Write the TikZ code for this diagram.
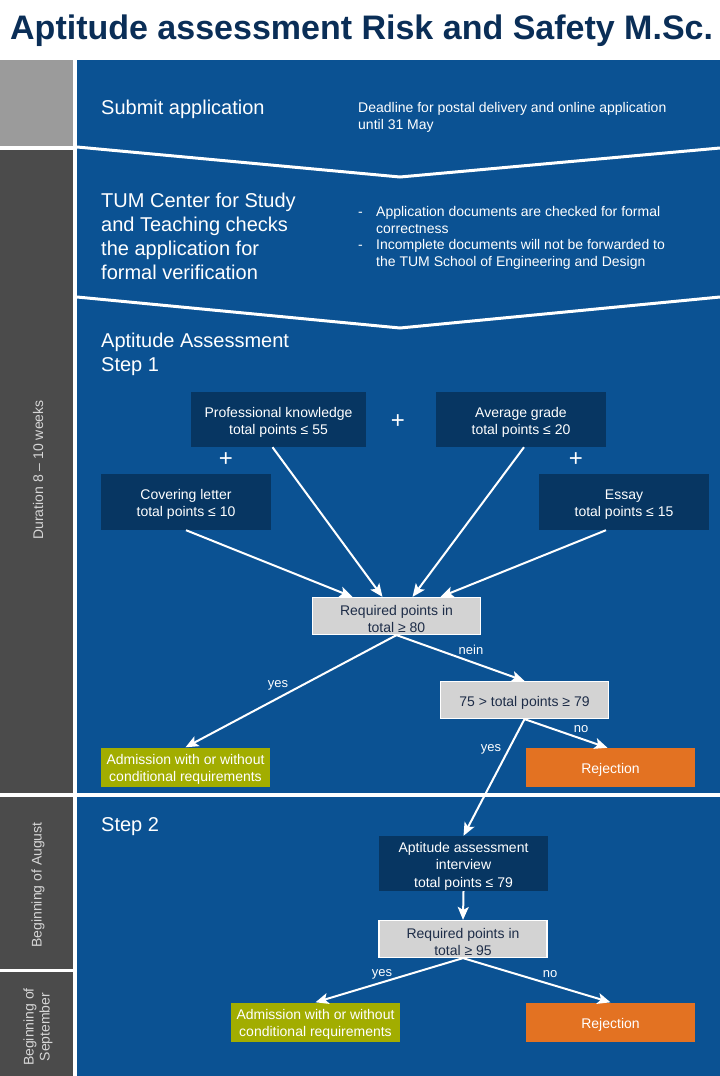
\documentclass[tikz,border=0pt]{standalone}
\usepackage{fontspec}
\setmainfont{Liberation Sans}
\usetikzlibrary{arrows.meta,calc}
\definecolor{tumblue}{HTML}{0B5293}
\definecolor{boxdark}{HTML}{073662}
\definecolor{titleblue}{HTML}{0A2E57}
\definecolor{boxgray}{HTML}{D3D3D3}
\definecolor{graytext}{HTML}{1E2D48}
\definecolor{oliveg}{HTML}{A2AD00}
\definecolor{tumorange}{HTML}{E37222}
\definecolor{sidelight}{HTML}{9B9B9B}
\definecolor{sidedark}{HTML}{4B4B4B}
\definecolor{sidetext}{HTML}{D6D6D6}
\newcommand{\tallstrut}{\rule{0pt}{15.5pt}}
\begin{document}
\begin{tikzpicture}[x=1pt,y=-1pt,
  boxtext/.style={inner sep=0pt, align=center, font=\fontsize{14}{17}\selectfont},
  darkbox/.style={boxtext, fill=boxdark, text=white, minimum width=170pt, minimum height=55pt},
  graybox/.style={boxtext, fill=boxgray, draw=white, line width=1.2pt, text=graytext, minimum width=168pt, minimum height=37pt},
  admbox/.style={boxtext, fill=oliveg, text=white, minimum width=169pt, minimum height=39pt},
  rejbox/.style={boxtext, fill=tumorange, text=white, minimum width=169pt, minimum height=39pt},
  arr/.style={draw=white, line width=2pt, -{Stealth[length=13pt,width=11pt,inset=3pt]}},
  lbl/.style={text=white, font=\fontsize{13}{15}\selectfont, inner sep=0pt},
  plussign/.style={text=white, font=\fontsize{24}{24}\selectfont, inner sep=0pt},
  head/.style={text=white, font=\fontsize{20}{24}\selectfont, anchor=base west, inner sep=0pt},
  small/.style={text=white, font=\fontsize{14}{17}\selectfont, anchor=base west, inner sep=0pt},
  side/.style={text=sidetext, rotate=90, font=\fontsize{14}{16}\selectfont, align=center, inner sep=0pt},
  chevron/.style={draw=white, line width=3pt}
]
\useasboundingbox (0,0) rectangle (720,1076);
\fill[white] (0,0) rectangle (720,1076);
% title
\node[anchor=base west, inner sep=0pt, text=titleblue, font=\fontsize{34}{40}\selectfont\bfseries] (title) at (10,39) {Aptitude assessment Risk and Safety M.Sc.};
% sidebar
\fill[sidelight] (0,60) rectangle (73,146);
\fill[sidedark] (0,150) rectangle (73,793);
\fill[sidedark] (0,797) rectangle (73,969);
\fill[sidedark] (0,972) rectangle (73,1076);
% blue areas
\fill[tumblue] (77,60) rectangle (720,793);
\fill[tumblue] (77,797) rectangle (720,1076);
% chevrons
\draw[chevron] (77,147) -- (400,177) -- (720,148);
\draw[chevron] (77,297) -- (400,328) -- (720,297);
% sidebar texts
\node[side] (dur) at (38,470) {Duration 8 -- 10 weeks};
\node[side] (aug) at (38,885) {Beginning of August};
\node[side] (sep) at (38,1027) {Beginning of\\September};
% section texts
\node[head] (sub) at (101,114) {Submit application};
\node[small] (dl1) at (358,112) {Deadline for postal delivery and online application};
\node[small] (dl2) at (358,129) {until 31 May};
\node[head] (tum1) at (101,207) {TUM Center for Study};
\node[head] (tum2) at (101,231) {and Teaching checks};
\node[head] (tum3) at (101,255) {the application for};
\node[head] (tum4) at (101,279) {formal verification};
\node[small] (d1) at (358,216) {-};
\node[small] (b1a) at (376,216) {Application documents are checked for formal};
\node[small] (b1b) at (376,233) {correctness};
\node[small] (d2) at (358,249) {-};
\node[small] (b2a) at (376,249) {Incomplete documents will not be forwarded to};
\node[small] (b2b) at (376,266) {the TUM School of Engineering and Design};
\node[head] (as1) at (101,347) {Aptitude Assessment};
\node[head] (as2) at (101,371) {Step 1};
\node[head] (st2) at (101,831) {Step 2};
% step 1 boxes
\node[darkbox, minimum width=175pt] (prof) at (278.5,419.5) {\tallstrut Professional knowledge\\total points ≤ 55};
\node[darkbox] (avg) at (521,419.5) {\tallstrut Average grade\\total points ≤ 20};
\node[darkbox, minimum height=56pt] (cov) at (186,502) {\tallstrut Covering letter\\total points ≤ 10};
\node[darkbox, minimum height=56pt] (essay) at (624,502) {\tallstrut Essay\\total points ≤ 15};
\node[plussign] (p1) at (398,422) {+};
\node[plussign] (p2) at (226,460) {+};
\node[plussign] (p3) at (576,460) {+};
\node[graybox] (req1) at (396.5,616) {\tallstrut Required points in\\total ≥ 80};
\node[graybox] (b75) at (524.5,700) {\tallstrut 75 > total points ≥ 79};
\node[admbox] (adm1) at (185.5,767) {\tallstrut Admission with or without\\conditional requirements};
\node[rejbox] (rej1) at (610.5,767.5) {\tallstrut Rejection};
% step 2 boxes
\node[darkbox, minimum width=169pt, font=\fontsize{14}{17.5}\selectfont] (intv) at (463.5,863.5) {\tallstrut Aptitude assessment\\interview\\total points ≤ 79};
\node[graybox] (req2) at (463,939) {\tallstrut Required points in\\total ≥ 95};
\node[admbox] (adm2) at (315.5,1022) {\tallstrut Admission with or without\\conditional requirements};
\node[rejbox] (rej2) at (610.5,1022) {\tallstrut Rejection};
% arrows
\draw[arr] (cov.south) -- ($(req1.north)+(-44,0)$);
\draw[arr] ($(prof.south)+(-6,0)$) -- ($(req1.north)+(-14,0)$);
\draw[arr] ($(avg.south)+(3,0)$) -- ($(req1.north)+(16,0)$);
\draw[arr] ($(essay.south)+(-18,0)$) -- ($(req1.north)+(44,0)$);
\draw[arr] (req1.south) -- (adm1.north);
\draw[arr] (req1.south) -- (b75.north);
\draw[arr] (b75.south) -- ($(rej1.north)+(-3,0)$);
\draw[arr] (b75.south) -- (intv.north);
\draw[arr] (intv.south) -- (req2.north);
\draw[arr] (req2.south) -- (adm2.north);
\draw[arr] (req2.south) -- (rej2.north);
% labels
\node[lbl] (l1) at (471,650) {nein};
\node[lbl] (l2) at (278,685) {yes};
\node[lbl] (l3) at (581,729) {no};
\node[lbl] (l4) at (491,749) {yes};
\node[lbl] (l5) at (382,974) {yes};
\node[lbl] (l6) at (550,974) {no};
\end{tikzpicture}
\end{document}
